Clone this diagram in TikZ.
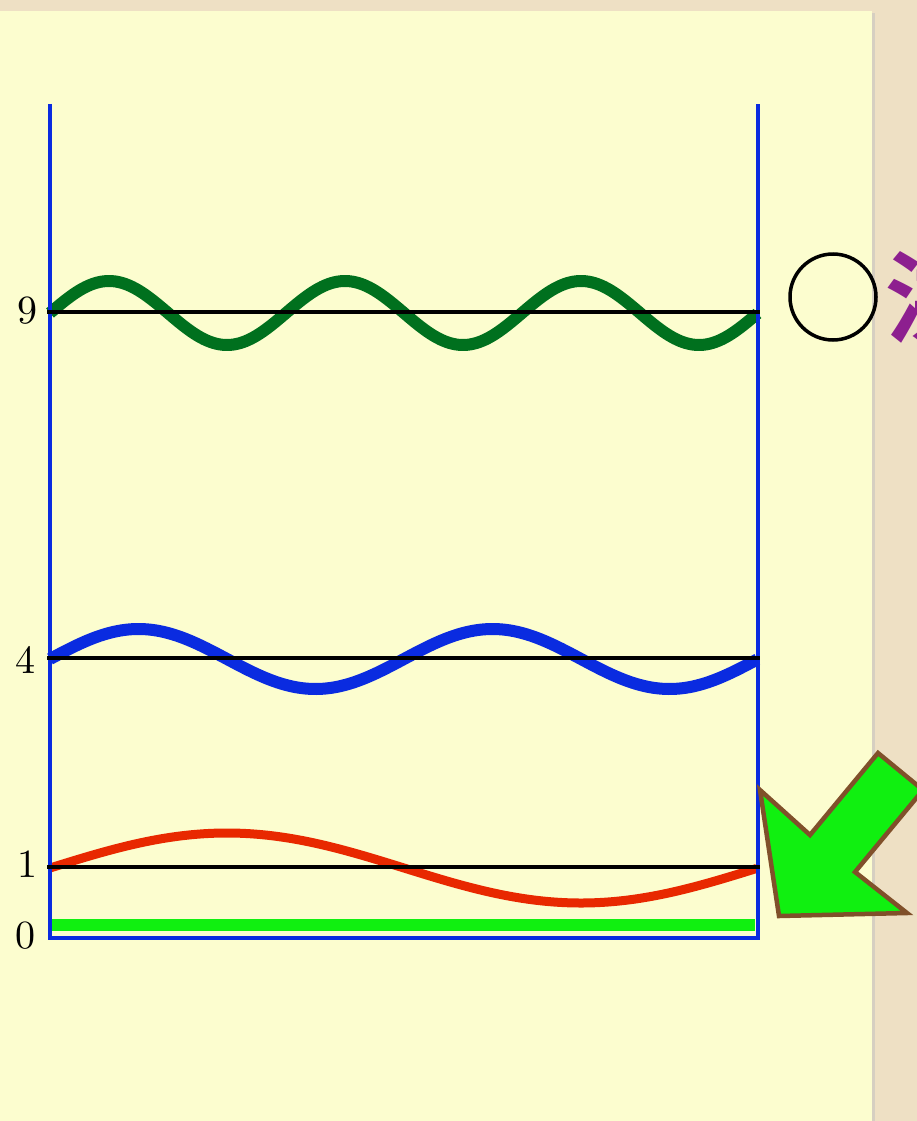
\documentclass[tikz,border=0pt]{standalone}
\usepackage{fontspec}
\newfontfamily\cjkfont{Noto Sans CJK SC}[BoldFont={* Bold}]
\newfontfamily\lmten{lmroman10-regular}[Extension=.otf]
\definecolor{bgbeige}{RGB}{238,224,196}
\definecolor{panelyellow}{RGB}{252,253,207}
\definecolor{wavegreen}{RGB}{0,112,30}
\definecolor{waveblue}{RGB}{10,43,224}
\definecolor{wavered}{RGB}{232,40,0}
\definecolor{brightgreen}{RGB}{16,240,16}
\definecolor{purpletext}{RGB}{141,31,143}
\definecolor{arrowbrown}{RGB}{128,80,42}
\tikzset{
  wallline/.style={draw=waveblue, line width=4pt},
  levelline/.style={draw=black, line width=4.5pt},
  wave/.style={line width=#1, line join=round},
  levellabel/.style={font=\lmten\fontsize{40}{48}\selectfont, inner sep=0pt},
}
\begin{document}
\begin{tikzpicture}[x=1pt, y=-1pt]
\useasboundingbox (0,0) rectangle (917,1121);
\clip (0,0) rectangle (917,1121);
% background
\fill[bgbeige] (0,0) rectangle (917,1121);
\fill[black!25, opacity=0.5] (871,13) rectangle (875,1121);
\fill[panelyellow] (0,11) rectangle (872,1121);
% waves
\draw[wave=12pt, wavegreen] plot[domain=0:1, samples=240, smooth] ({50+708*\x}, {313-32*sin(1080*\x)});
\draw[wave=12pt, waveblue] plot[domain=0:1, samples=200, smooth] ({50+708*\x}, {659-30*sin(720*\x)});
\draw[wave=9pt, wavered] plot[domain=0:1, samples=150, smooth] ({50+708*\x}, {868-35*sin(360*\x)});
\draw[brightgreen, line width=12pt] (50,925) -- (755,925);
% walls
\coordinate (lt) at (50,104);
\coordinate (lb) at (50,938);
\coordinate (rt) at (758,104);
\coordinate (rb) at (758,938);
\draw[wallline] (lt) -- (lb) -- (rb) -- (rt);
% level lines
\coordinate (l9a) at (47,312); \coordinate (l9b) at (760,312);
\coordinate (l4a) at (47,658); \coordinate (l4b) at (760,658);
\coordinate (l1a) at (47,867); \coordinate (l1b) at (760,867);
\draw[levelline] (l9a) -- (l9b);
\draw[levelline] (l4a) -- (l4b);
\draw[levelline] (l1a) -- (l1b);
% labels
\node[levellabel] (n9) at (27,311) {9};
\node[levellabel] (n4) at (26,660) {4};
\node[levellabel] (n1) at (27,864) {1};
\node[levellabel] (n0) at (26,936) {0};
% circle and text
\node[draw=black, line width=3.5pt, circle, minimum size=86pt, inner sep=0pt] (circ) at (833,297) {};
\node[anchor=west, inner sep=0pt, text=purpletext, font=\cjkfont\bfseries\fontsize{100}{100}\selectfont] (hong) at (884,298) {洪};
% green arrow
\draw[fill=brightgreen, draw=arrowbrown, line width=4.5pt, line join=miter]
  (760,790) -- (810,835) -- (878,753) -- (923,790) -- (855,872) -- (907,913) -- (779,916) -- cycle;
\end{tikzpicture}
\end{document}
